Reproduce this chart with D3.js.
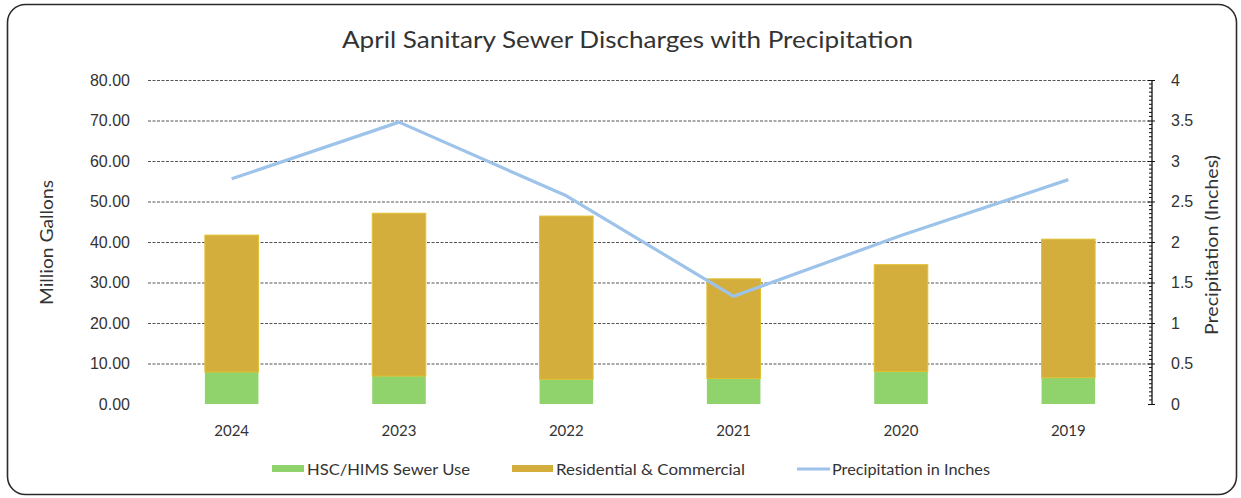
<!DOCTYPE html>
<html><head><meta charset="utf-8">
<script src="https://cdn.jsdelivr.net/npm/d3@7"></script>
<style>
html,body{margin:0;padding:0;background:#fff;}
svg{display:block;font-family:"Lato","Open Sans",sans-serif;}
</style></head>
<body>
<svg id="chart" width="1241" height="498"></svg>
<script>
// ---- data ----
const years = ["2024","2023","2022","2021","2020","2019"];
const hscSewer = [7.9, 6.9, 6.1, 6.3, 8.0, 6.5];
const residential = [33.8, 40.2, 40.3, 24.6, 26.4, 34.2];
const precipitation = [2.78, 3.48, 2.57, 1.33, 2.08, 2.77];
const leftTicks = [0,10,20,30,40,50,60,70,80];
const rightTicks = [0,0.5,1,1.5,2,2.5,3,3.5,4];
const seriesNames = ["HSC/HIMS Sewer Use","Residential & Commercial","Precipitation in Inches"];
const title = "April Sanitary Sewer Discharges with Precipitation";

const svg = d3.select("#chart");
const m = {left:148, right:1152, top:80, bottom:404};
const cGreen = "#90D26C", cGold = "#D4AE3C", cGoldEdge = "#E0C030", cLine = "#9DC3EA";
const txt = "#333";

function fit(sel, w){ sel.attr("textLength", w).attr("lengthAdjust","spacingAndGlyphs"); return sel; }

// frame
svg.append("rect").attr("x",7.5).attr("y",4.5).attr("width",1229).attr("height",490)
  .attr("rx",18).attr("fill","#fff").attr("stroke","#2b2b2b").attr("stroke-width",1.6);

const x = d3.scaleBand().domain(years).range([m.left, m.right]).paddingInner(0.68).paddingOuter(0.34);
const y = d3.scaleLinear().domain([0,80]).range([m.bottom, m.top]);
const y2 = d3.scaleLinear().domain([0,4]).range([m.bottom, m.top]);

// gridlines
svg.append("g").selectAll("line").data(leftTicks.filter(d=>d>0)).join("line")
  .attr("x1",m.left).attr("x2",m.right).attr("y1",d=>y(d)+0.5).attr("y2",d=>y(d)+0.5)
  .attr("stroke","#555").attr("stroke-width",1).attr("stroke-dasharray","3,1.5");

// left axis labels
const gl = svg.append("g").attr("transform",`translate(${m.left},0)`)
  .call(d3.axisLeft(y).tickValues(leftTicks).tickFormat(d3.format(".2f")).tickSize(0).tickPadding(18));
gl.select(".domain").remove();
gl.selectAll("text").attr("font-size",16).attr("fill",txt);

// right axis
const gr = svg.append("g").attr("transform",`translate(${m.right},0)`)
  .call(d3.axisRight(y2).tickValues(rightTicks).tickFormat(d=>d3.format("")(d)).tickSize(4).tickPadding(15));
gr.select(".domain").attr("stroke","#111").attr("stroke-width",1.3).attr("d",`M0,${m.top}V${m.bottom}`);
gr.selectAll(".tick line").attr("x1",-4).attr("x2",3).attr("stroke","#111");
gr.selectAll("text").attr("font-size",16).attr("fill",txt);
const minor = d3.range(0,80).map(i=>i*0.05).filter(v=>Math.abs(v*2-Math.round(v*2))>1e-6);
gr.append("g").selectAll("line").data(minor).join("line")
  .attr("x1",-3).attr("x2",0).attr("y1",d=>y2(d)).attr("y2",d=>y2(d)).attr("stroke","#111").attr("stroke-width",1);

// stacked bars
const stackData = years.map((yr,i)=>({year:yr, hsc:hscSewer[i], res:residential[i]}));
const stack = d3.stack().keys(["hsc","res"])(stackData);
const colors = {hsc:cGreen, res:cGold};
svg.append("g").selectAll("g").data(stack).join("g")
  .attr("fill",d=>colors[d.key])
  .attr("stroke",d=>d.key==="res"?cGoldEdge:"none")
  .selectAll("rect").data(d=>d).join("rect")
  .attr("x",d=>x(d.data.year)).attr("width",x.bandwidth())
  .attr("y",d=>y(d[1])).attr("height",d=>y(d[0])-y(d[1]));

// precipitation line
const line = d3.line().x((d,i)=>x(years[i])+x.bandwidth()/2).y(d=>y2(d));
svg.append("path").datum(precipitation).attr("d",line).attr("fill","none")
  .attr("stroke",cLine).attr("stroke-width",3.2).attr("stroke-linejoin","round");

// x labels
svg.append("g").selectAll("text").data(years).join("text")
  .attr("x",d=>x(d)+x.bandwidth()/2).attr("y",436).attr("text-anchor","middle")
  .attr("font-size",15).attr("fill",txt).text(d=>d);

// titles
fit(svg.append("text").attr("x",342).attr("y",48)
  .attr("font-size",24).attr("fill",txt).text(title), 571);
fit(svg.append("text").attr("transform","translate(53,305) rotate(-90)")
  .attr("font-size",17).attr("fill",txt).text("Million Gallons"), 125);
fit(svg.append("text").attr("transform","translate(1218,335) rotate(-90)")
  .attr("font-size",17).attr("fill",txt).text("Precipitation (Inches)"), 180);

// legend
const lg = svg.append("g");
const legendItems = [
  {name:seriesNames[0], x:272, tx:307, w:163, type:"rect", color:cGreen},
  {name:seriesNames[1], x:512, tx:556, w:189, type:"rect", color:cGold},
  {name:seriesNames[2], x:797, tx:832, w:158, type:"line", color:cLine}
];
const ly = 469;
legendItems.forEach(it=>{
  if(it.type==="rect"){
    lg.append("rect").attr("x",it.x).attr("y",ly-4).attr("width",it.tx-it.x-3).attr("height",7).attr("fill",it.color);
  } else {
    lg.append("line").attr("x1",it.x).attr("x2",it.tx-2).attr("y1",ly).attr("y2",ly)
      .attr("stroke",it.color).attr("stroke-width",3);
  }
  fit(lg.append("text").attr("x",it.tx).attr("y",ly+6).attr("font-size",15.5).attr("fill",txt).text(it.name), it.w);
});
</script>
</body></html>
